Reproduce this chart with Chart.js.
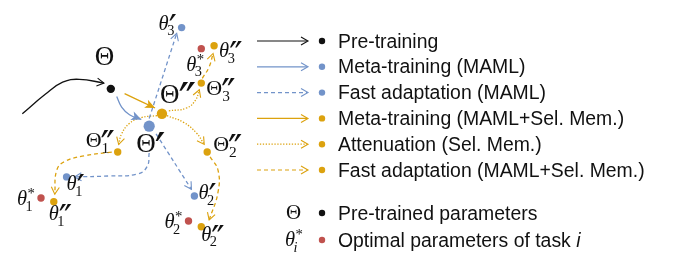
<!DOCTYPE html>
<html>
<head>
<meta charset="utf-8">
<style>
  html, body { margin: 0; padding: 0; background: #fff; }
  canvas { display: block; }
</style>
<script src="https://cdn.jsdelivr.net/npm/chart.js@4/dist/chart.umd.min.js"></script>
</head>
<body>
<canvas id="diagram" width="673" height="261"></canvas>
<script>
// ── Colours ──────────────────────────────────────────────────────────────────
const INK = '#111111', BLUE = '#7293c9', GOLD = '#dca20e', RED = '#c0524e';

// ── Parameter points (figure coordinates, y grows downward) ──────────────────
const preX   = [107],  preY   = [87];                 // Θ
const mamlX  = [146, 62, 192, 179];                     // Θ', θ'1, θ'2, θ'3
const mamlY  = [126, 179, 199, 23];
const selX   = [159, 114, 205, 199, 49, 199, 212];       // Θ'', Θ''1..3, θ''1..3
const selY   = [113, 153, 153, 81, 205, 231, 42];
const optX   = [36, 186, 199];                           // θ*1..3
const optY   = [201, 225, 45];

// ── Trajectories ─────────────────────────────────────────────────────────────
const pathPretrain = [[17, 113], [40, 93], [58, 80], [75, 77], [100, 81]];
const pathMetaMaml = [[113, 95], [118, 106], [126, 114], [138, 119]];
const pathMetaSel  = [[121, 92], [152, 107]];
const pathFastM1   = [[146, 154], [144, 168], [134, 176], [105, 178], [70, 179]];
const pathFastM2   = [[153, 134], [189, 192]];
const pathFastM3   = [[146, 118], [174, 29]];
const pathAtt1     = [[154, 115], [138, 117], [126, 123], [118, 134], [115, 145]];
const pathAtt2     = [[164, 115], [181, 122], [194, 133], [202, 145]];
const pathAtt3     = [[166, 110], [184, 107], [193, 99], [197, 88]];
const pathFastS1   = [[108, 153], [80, 157], [60, 163], [52, 172], [50, 197]];
const pathFastS2   = [[208, 158], [216, 172], [216, 195], [207, 224]];
const pathFastS3   = [[200, 76], [207, 64], [211, 50]];

// ── Legend ───────────────────────────────────────────────────────────────────
const legendLabels = ['Pre-training', 'Meta-training (MAML)', 'Fast adaptation (MAML)',
  'Meta-training (MAML+Sel. Mem.)', 'Attenuation (Sel. Mem.)', 'Fast adaptation (MAML+Sel. Mem.)'];
const legendColors = [INK, BLUE, BLUE, GOLD, GOLD, GOLD];
const legendStyles = ['solid', 'solid', 'dashed', 'solid', 'dotted', 'dashed'];
const symbolLabels = ['Pre-trained parameters', 'Optimal parameters of task '];

// ── Point labels: [base, superscript, subscript, italic, size], offset ───────
const nodeLabels = [
  { at: [preX[0], preY[0]],   m: ['Θ', '', '', false, 27], d: [-16, -24] },
  { at: [selX[0], selY[0]],   m: ['Θ', '″', '', false, 27], d: [-2, -11] },
  { at: [mamlX[0], mamlY[0]], m: ['Θ', '′', '', false, 27], d: [-13, 26] },
  { at: [selX[1], selY[1]],   m: ['Θ', '″', '1', false, 22], d: [-32, -5] },
  { at: [selX[2], selY[2]],   m: ['Θ', '″', '2', false, 22], d: [6, -1] },
  { at: [selX[3], selY[3]],   m: ['Θ', '″', '3', false, 22], d: [5, 12] },
  { at: [mamlX[1], mamlY[1]], m: ['θ', '′', '1', true, 20.5], d: [0, 13] },
  { at: [mamlX[2], mamlY[2]], m: ['θ', '′', '2', true, 20.5], d: [4, 3] },
  { at: [mamlX[3], mamlY[3]], m: ['θ', '′', '3', true, 20.5], d: [-23, 2] },
  { at: [selX[4], selY[4]],   m: ['θ', '″', '1', true, 20.5], d: [-5, 18] },
  { at: [selX[5], selY[5]],   m: ['θ', '″', '2', true, 20.5], d: [0, 14] },
  { at: [selX[6], selY[6]],   m: ['θ', '″', '3', true, 20.5], d: [5, 11] },
  { at: [optX[0], optY[0]],   m: ['θ', '*', '1', true, 20.5], d: [-24, 7] },
  { at: [optX[1], optY[1]],   m: ['θ', '*', '2', true, 20.5], d: [-24, 7] },
  { at: [optX[2], optY[2]],   m: ['θ', '*', '3', true, 20.5], d: [-15, 22] },
];

const SERIF = '"Liberation Serif", "DejaVu Serif", serif';
const PRIME = '"DejaVu Sans", sans-serif';
const SANS  = '"Liberation Sans", Arial, Helvetica, sans-serif';

const toXY = (xs, ys) => xs.map((x, i) => ({ x, y: ys[i] }));
const toPts = arr => arr.map(([x, y]) => ({ x, y }));

function dots(xs, ys, color, radii) {
  return { data: toXY(xs, ys), backgroundColor: color, borderWidth: 0,
    pointRadius: radii, order: 0 };
}

const DASH = { solid: [], dashed: [4, 3], dotted: [1.3, 1.6] };
function path(pts, color, style, head) {
  return { data: toPts(pts), showLine: true, borderColor: color, borderWidth: 1.3,
    borderDash: DASH[style], tension: 0.45, pointRadius: 0, order: 1, arrow: head };
}

// ── Arrow heads ──────────────────────────────────────────────────────────────
function drawHead(ctx, x, y, ang, color, kind) {
  ctx.save();
  ctx.translate(x, y); ctx.rotate(ang);
  ctx.setLineDash([]);
  ctx.strokeStyle = color; ctx.fillStyle = color; ctx.lineWidth = 1.1;
  ctx.lineJoin = 'miter';
  if (kind === 'filled') {
    ctx.beginPath();
    ctx.moveTo(0, 0); ctx.lineTo(-10, -4.5); ctx.lineTo(-7.5, 0); ctx.lineTo(-10, 4.5);
    ctx.closePath(); ctx.fill();
  } else {
    ctx.beginPath();
    ctx.moveTo(-7, -4); ctx.lineTo(0, 0); ctx.lineTo(-7, 4);
    ctx.stroke();
  }
  ctx.restore();
}

const arrowPlugin = {
  id: 'arrows',
  afterDatasetDraw(chart, args) {
    const ds = chart.data.datasets[args.index];
    if (!ds.arrow) return;
    const pts = args.meta.data;
    const last = pts[pts.length - 1];
    let fx = pts[pts.length - 2].x, fy = pts[pts.length - 2].y;
    if (last.cp1x !== undefined && (last.cp1x !== last.x || last.cp1y !== last.y)) {
      fx = last.cp1x; fy = last.cp1y;
    }
    drawHead(chart.ctx, last.x, last.y, Math.atan2(last.y - fy, last.x - fx), ds.borderColor, ds.arrow);
  }
};

// ── Math-style labels ────────────────────────────────────────────────────────
function drawMath(ctx, x, y, base, sup, sub, italic, size) {
  ctx.fillStyle = INK;
  ctx.textBaseline = 'alphabetic'; ctx.textAlign = 'left';
  ctx.font = `${italic ? 'italic ' : ''}${size}px ${SERIF}`;
  ctx.fillText(base, x, y);
  const w = ctx.measureText(base).width;
  if (sup === '*') {
    ctx.font = `${size * 0.72}px ${SERIF}`;
    ctx.fillText(sup, x + w + 0.5, y - size * 0.34);
  } else if (sup) {
    // scale the prime glyph so it is ~0.35em tall with its top just above the cap line
    ctx.font = `20px ${PRIME}`;
    const m0 = ctx.measureText(sup);
    const h0 = m0.actualBoundingBoxAscent + m0.actualBoundingBoxDescent || 6;
    const ps = 20 * (0.35 * size) / h0;
    ctx.font = `${ps}px ${PRIME}`;
    const m = ctx.measureText(sup);
    const yb = y - 0.76 * size + m.actualBoundingBoxAscent;
    ctx.fillText(sup, x + w + (italic ? 0 : -1), yb);
  }
  if (sub) {
    ctx.font = `${sub === 'i' ? 'italic ' : ''}${size * 0.7}px ${SERIF}`;
    ctx.fillText(sub, x + w - (italic ? 1.5 : 0), y + size * 0.28);
  }
}

const labelPlugin = {
  id: 'labels',
  afterDatasetsDraw(chart) {
    const { ctx, scales: { x, y } } = chart;
    ctx.save();
    nodeLabels.forEach(l => {
      const px = x.getPixelForValue(l.at[0]) + l.d[0];
      const py = y.getPixelForValue(l.at[1]) + l.d[1];
      drawMath(ctx, px, py, l.m[0], l.m[1], l.m[2], l.m[3], l.m[4]);
    });
    ctx.restore();
  }
};

// ── Legend ───────────────────────────────────────────────────────────────────
const legendPlugin = {
  id: 'customLegend',
  afterDraw(chart) {
    const ctx = chart.ctx;
    const lineX0 = 257, lineX1 = 308, dotX = 322, textX = 338;
    const FONT = `19.4px ${SANS}`;
    ctx.save();
    legendLabels.forEach((label, i) => {
      const ly = 41 + i * 25.8;
      ctx.strokeStyle = legendColors[i]; ctx.lineWidth = 1.2;
      ctx.setLineDash(DASH[legendStyles[i]]);
      ctx.beginPath(); ctx.moveTo(lineX0, ly); ctx.lineTo(lineX1 - 1, ly); ctx.stroke();
      drawHead(ctx, lineX1, ly, 0, legendColors[i], 'open');
      ctx.fillStyle = legendColors[i];
      ctx.beginPath(); ctx.arc(dotX, ly, 3.2, 0, Math.PI * 2); ctx.fill();
      ctx.fillStyle = INK; ctx.font = FONT;
      ctx.textBaseline = 'alphabetic'; ctx.textAlign = 'left';
      ctx.fillText(label, textX, ly + 6.5);
    });
    // symbols
    const rows = [213, 240];
    drawMath(ctx, 286, 218.5, 'Θ', '', '', false, 21);
    drawMath(ctx, 285, 246, 'θ', '*', 'i', true, 20.5);
    [INK, RED].forEach((c, i) => {
      ctx.fillStyle = c;
      ctx.beginPath(); ctx.arc(dotX, rows[i], 3.2, 0, Math.PI * 2); ctx.fill();
      ctx.fillStyle = INK; ctx.font = FONT;
      ctx.fillText(symbolLabels[i], textX, rows[i] + 6.5);
    });
    const w = ctx.measureText(symbolLabels[1]).width;
    ctx.font = `italic 19.4px ${SANS}`;
    ctx.fillText('i', textX + w, rows[1] + 6.5);
    ctx.restore();
  }
};

new Chart(document.getElementById('diagram'), {
  type: 'scatter',
  data: {
    datasets: [
      dots(preX, preY, INK, [4.2]),
      dots(mamlX, mamlY, BLUE, [5.6, 3.7, 3.7, 3.7]),
      dots(selX, selY, GOLD, [5.2, 3.7, 3.7, 3.7, 3.7, 3.7, 3.7]),
      dots(optX, optY, RED, [3.7, 3.7, 3.7]),
      path(pathPretrain, INK, 'solid', 'open'),
      path(pathMetaMaml, BLUE, 'solid', 'filled'),
      path(pathMetaSel, GOLD, 'solid', 'filled'),
      path(pathFastM1, BLUE, 'dashed', 'open'),
      path(pathFastM2, BLUE, 'dashed', 'open'),
      path(pathFastM3, BLUE, 'dashed', 'open'),
      path(pathAtt1, GOLD, 'dotted', 'open'),
      path(pathAtt2, GOLD, 'dotted', 'open'),
      path(pathAtt3, GOLD, 'dotted', 'open'),
      path(pathFastS1, GOLD, 'dashed', 'open'),
      path(pathFastS2, GOLD, 'dashed', 'open'),
      path(pathFastS3, GOLD, 'dashed', 'open'),
    ]
  },
  options: {
    responsive: false,
    animation: false,
    events: [],
    layout: { padding: 0 },
    plugins: { legend: { display: false }, tooltip: { enabled: false } },
    scales: {
      x: { type: 'linear', min: 0, max: 673, display: false },
      y: { type: 'linear', min: 0, max: 261, reverse: true, display: false },
    }
  },
  plugins: [arrowPlugin, labelPlugin, legendPlugin]
});
</script>
</body>
</html>
